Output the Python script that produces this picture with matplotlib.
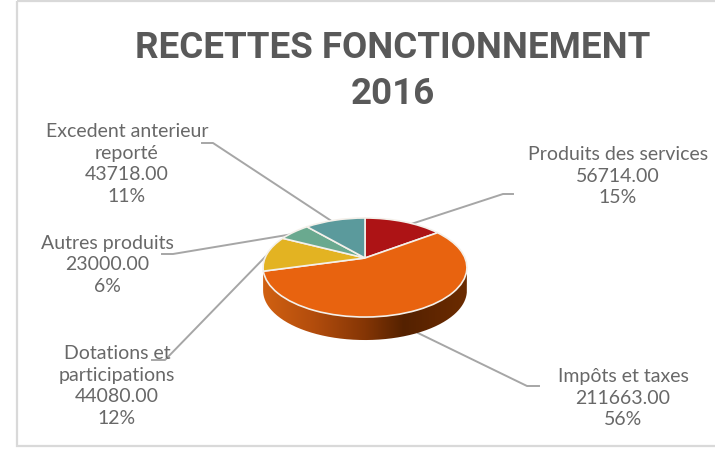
import matplotlib
matplotlib.use('Agg')
import matplotlib.pyplot as plt
import numpy as np
from matplotlib.patches import Rectangle, PathPatch
from matplotlib.path import Path

labels = ['Produits des services', 'Impôts et taxes', 'Dotations et\nparticipations',
          'Autres produits', 'Excedent anterieur\nreporté']
values = [56714.00, 211663.00, 44080.00, 23000.00, 43718.00]
percents = ['15%', '56%', '12%', '6%', '11%']
colors = ['#ad1315', '#e8630f', '#e3b322', '#6aa98f', '#5b9a9c']
title = 'RECETTES FONCTIONNEMENT\n2016'

TEXT = '#595959'
W, H = 715, 450
FONT = 'Lato'

fig = plt.figure(figsize=(W / 100, H / 100), dpi=100)

# fond en pixels pour le cadre, le titre, les etiquettes
bg = fig.add_axes([0, 0, 1, 1])
bg.set_xlim(0, W)
bg.set_ylim(H, 0)
bg.axis('off')
bg.add_patch(Rectangle((17, 1), W, 445, fill=False, ec='#d9d9d9', lw=1.6))

bg.text(393, 71, title, ha='center', va='center', color=TEXT, fontsize=26.5,
        fontweight='bold', family='Roboto', linespacing=1.33)

# position des etiquettes : centre x, centre y
label_pos = [(618, 176), (623, 398), (117, 386), (107, 265), (127, 164)]
for lab, val, pct, (x, y) in zip(labels, values, percents, label_pos):
    s = '%s\n%.2f\n%s' % (lab, val, pct)
    bg.text(x, y, s, ha='center', va='center', color='#686868', fontsize=14,
            family=FONT, linespacing=1.32)

# lignes de rappel
leaders = [
    ([513, 503, 405], [194, 194, 226]),
    ([539, 527, 418], [386, 386, 333]),
    ([152, 165, 267], [360, 360, 255]),
    ([162, 173, 293], [254, 254, 234]),
    ([202, 213, 333], [143, 143, 222]),
]
for xs, ys in leaders:
    bg.plot(xs, ys, color='#a6a6a6', lw=1.4, zorder=1)

# camembert en perspective : 1 unite = 100 px en x, 47.7 px en y, sommet en (365, 258)
cx, cy = 365, 258
rx, ry = 100, 47.7
k = 0.192
ax = fig.add_axes([(cx - 1.25 * rx) / W, 1 - (cy + 2 * ry) / H,
                   2.5 * rx / W, 4 * ry / H])
ax.patch.set_alpha(0)
wedges, _ = ax.pie(values, colors=colors, startangle=90, counterclock=False,
                   wedgeprops={'edgecolor': '#f4f0ea', 'linewidth': 1.2})
ax.set_aspect('auto')


def warp(v):
    w = 1 + k * v[:, 1]
    return np.column_stack([v[:, 0] / w, v[:, 1] / w])


for p in wedges:
    path = p.get_path()
    path.vertices[:] = warp(path.vertices)

# cote du camembert, degrade de l'orange au brun
depth = 23 / ry
t = np.linspace(0, 2 * np.pi, 721)
rim = warp(np.column_stack([np.cos(t), np.sin(t)]))
il, ir = rim[:, 0].argmin(), rim[:, 0].argmax()
front = rim[il:] if il > ir else rim[il:ir + 1]
if il > ir:
    front = np.vstack([rim[il:], rim[:ir + 1]])
back = front[::-1] - [0, depth]
side = PathPatch(Path(np.vstack([front, back])), fc='none', ec='none', zorder=0.5)
ax.add_patch(side)
stops_x = [-1.0, -0.5, 0.0, 0.38, 0.7, 1.0]
stops_r = [0.82, 0.70, 0.52, 0.33, 0.38, 0.42]
stops_g = [0.38, 0.30, 0.21, 0.13, 0.15, 0.17]
stops_b = [0.07, 0.05, 0.02, 0.00, 0.00, 0.00]
gx = np.linspace(-1, 1, 256)
grad = np.dstack([np.interp(gx, stops_x, stops_r), np.interp(gx, stops_x, stops_g),
                  np.interp(gx, stops_x, stops_b)])
im = ax.imshow(grad, extent=(-1.03, 1.03, -2, 0), aspect='auto', zorder=0.4)
im.set_clip_path(side)
ax.set_xlim(-1.25, 1.25)
ax.set_ylim(-2, 2)

fig.savefig('out.png', dpi=100)
